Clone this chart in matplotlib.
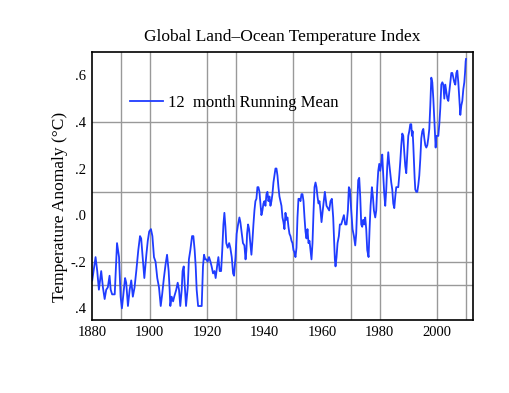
import matplotlib
matplotlib.use("Agg")
import matplotlib.pyplot as plt

plt.rcParams["font.family"] = ["Liberation Serif", "DejaVu Serif"]

# 12-month running mean (year, anomaly in deg C)
years = [
    1880.08, 1881.24, 1881.82, 1882.4, 1883.2, 1883.8, 1884.4, 1884.95, 1885.5, 1886.1,
    1886.5, 1887.0, 1887.9, 1888.7, 1889.4, 1889.95, 1890.4, 1891.5, 1891.9, 1892.5,
    1893.1, 1893.65, 1894.2, 1894.8, 1895.4, 1896.1, 1896.7, 1897.1, 1897.6, 1898.2,
    1898.9, 1899.4, 1899.9, 1900.5, 1901.0, 1901.55, 1902.1, 1902.7, 1903.3, 1903.9,
    1904.4, 1905.0, 1905.6, 1906.1, 1906.66, 1907.0, 1907.24, 1907.7, 1908.2, 1908.6,
    1909.3, 1909.8, 1910.26, 1910.7, 1911.2, 1911.5, 1911.9, 1912.2, 1912.7, 1913.3,
    1913.7, 1914.2, 1914.8, 1915.25, 1915.7, 1916.06, 1916.4, 1916.9, 1917.3, 1917.8,
    1918.15, 1918.6, 1918.96, 1919.4, 1919.8, 1920.2, 1920.7, 1921.2, 1921.6, 1922.1,
    1922.6, 1923.0, 1923.5, 1923.95, 1924.4, 1924.9, 1925.3, 1925.7, 1926.04, 1926.4,
    1926.7, 1927.2, 1927.7, 1928.1, 1928.6, 1929.06, 1929.4, 1929.9, 1930.3, 1930.8,
    1931.26, 1931.6, 1932.1, 1932.5, 1933.0, 1933.4, 1933.7, 1933.93, 1934.28, 1934.63,
    1934.98, 1935.44, 1935.79, 1936.14, 1936.49, 1936.83, 1937.18, 1937.53, 1937.88, 1938.23,
    1938.58, 1938.92, 1939.27, 1939.62, 1939.97, 1940.32, 1940.67, 1941.01, 1941.36, 1941.71,
    1942.06, 1942.41, 1942.75, 1943.1, 1943.45, 1943.8, 1944.15, 1944.5, 1944.84, 1945.19,
    1945.54, 1945.89, 1946.24, 1946.58, 1946.93, 1947.28, 1947.63, 1947.98, 1948.32, 1948.67,
    1949.02, 1949.37, 1949.72, 1950.07, 1950.41, 1950.76, 1951.11, 1951.46, 1951.8, 1952.15,
    1952.5, 1952.85, 1953.2, 1953.55, 1953.9, 1954.24, 1954.59, 1954.94, 1955.29, 1955.64,
    1955.98, 1956.33, 1956.68, 1957.03, 1957.38, 1957.73, 1958.07, 1958.42, 1958.77, 1959.12,
    1959.47, 1959.82, 1960.16, 1960.51, 1960.98, 1961.56, 1962.02, 1962.49, 1962.95, 1963.41,
    1963.88, 1964.23, 1964.46, 1964.69, 1965.04, 1965.39, 1965.85, 1966.2, 1966.67, 1967.13,
    1967.6, 1968.06, 1968.52, 1968.99, 1969.33, 1969.68, 1970.15, 1970.61, 1971.08, 1971.54,
    1971.89, 1972.24, 1972.58, 1972.93, 1973.28, 1973.63, 1973.98, 1974.32, 1974.67, 1975.02,
    1975.37, 1975.72, 1976.18, 1976.53, 1976.88, 1977.34, 1977.69, 1978.04, 1978.5, 1978.85,
    1979.2, 1979.55, 1979.9, 1980.24, 1980.59, 1980.94, 1981.29, 1981.64, 1981.98, 1982.33,
    1982.68, 1983.03, 1983.38, 1983.73, 1984.07, 1984.42, 1984.77, 1985.12, 1985.47, 1985.81,
    1986.16, 1986.51, 1986.86, 1987.21, 1987.56, 1987.9, 1988.25, 1988.6, 1988.95, 1989.29,
    1989.64, 1989.99, 1990.34, 1990.69, 1991.03, 1991.27, 1991.5, 1991.74, 1991.97, 1992.2,
    1992.43, 1992.78, 1993.13, 1993.48, 1993.82, 1994.17, 1994.52, 1994.87, 1995.22, 1995.56,
    1995.91, 1996.26, 1996.61, 1996.95, 1997.3, 1997.65, 1998.0, 1998.35, 1998.7, 1999.04,
    1999.28, 1999.51, 1999.74, 2000.09, 2000.44, 2000.78, 2001.13, 2001.48, 2001.83, 2002.18,
    2002.52, 2002.87, 2003.22, 2003.57, 2003.92, 2004.26, 2004.61, 2004.96, 2005.31, 2005.65,
    2006.0, 2006.35, 2006.7, 2007.04, 2007.39, 2007.74, 2008.09, 2008.43, 2008.78, 2009.13,
    2009.48, 2009.72, 2009.95, 2010.07,
]
anomaly = [
    -0.28, -0.18, -0.24, -0.32, -0.24, -0.31, -0.36, -0.32, -0.31, -0.26,
    -0.32, -0.34, -0.34, -0.12, -0.18, -0.35, -0.40, -0.27, -0.29, -0.39,
    -0.32, -0.28, -0.35, -0.31, -0.24, -0.15, -0.09, -0.10, -0.18, -0.27,
    -0.17, -0.11, -0.07, -0.06, -0.09, -0.18, -0.20, -0.27, -0.31, -0.39,
    -0.34, -0.27, -0.21, -0.17, -0.24, -0.32, -0.39, -0.35, -0.37, -0.35,
    -0.32, -0.29, -0.32, -0.39, -0.32, -0.24, -0.22, -0.29, -0.39, -0.31,
    -0.19, -0.15, -0.09, -0.09, -0.15, -0.22, -0.32, -0.39, -0.39, -0.39,
    -0.39, -0.22, -0.17, -0.19, -0.19, -0.20, -0.18, -0.20, -0.22, -0.25,
    -0.24, -0.27, -0.22, -0.18, -0.24, -0.24, -0.15, -0.04, 0.01, -0.05,
    -0.12, -0.14, -0.12, -0.14, -0.18, -0.25, -0.26, -0.18, -0.08, -0.04,
    -0.01, -0.03, -0.08, -0.12, -0.13, -0.19, -0.15, -0.08, -0.04, -0.06,
    -0.11, -0.17, -0.11, -0.04, 0.02, 0.06, 0.07, 0.12, 0.12, 0.10,
    0.05, 0.00, 0.02, 0.05, 0.06, 0.04, 0.09, 0.10, 0.06, 0.08,
    0.04, 0.06, 0.09, 0.14, 0.17, 0.20, 0.20, 0.17, 0.12, 0.08,
    0.06, 0.04, -0.01, -0.03, -0.06, 0.01, -0.02, -0.01, -0.05, -0.08,
    -0.09, -0.11, -0.12, -0.15, -0.16, -0.18, -0.14, -0.01, 0.07, 0.07,
    0.06, 0.09, 0.09, 0.06, -0.01, -0.07, -0.10, -0.06, -0.12, -0.11,
    -0.15, -0.19, -0.12, 0.01, 0.12, 0.14, 0.12, 0.08, 0.05, 0.06,
    0.02, -0.03, 0.01, 0.05, 0.10, 0.04, 0.03, 0.02, 0.06, 0.07,
    -0.01, -0.12, -0.19, -0.22, -0.18, -0.12, -0.09, -0.04, -0.04, -0.02,
    0.00, -0.04, -0.04, 0.02, 0.12, 0.11, 0.02, -0.06, -0.09, -0.13,
    -0.08, 0.05, 0.15, 0.16, 0.08, -0.04, -0.05, -0.02, -0.04, -0.01,
    -0.06, -0.15, -0.18, -0.06, 0.04, 0.12, 0.08, 0.02, -0.01, 0.02,
    0.12, 0.19, 0.22, 0.19, 0.22, 0.26, 0.17, 0.09, 0.04, 0.11,
    0.21, 0.27, 0.22, 0.18, 0.14, 0.11, 0.05, 0.03, 0.08, 0.12,
    0.12, 0.12, 0.17, 0.23, 0.30, 0.35, 0.34, 0.27, 0.21, 0.18,
    0.26, 0.34, 0.36, 0.39, 0.39, 0.34, 0.36, 0.30, 0.23, 0.16,
    0.11, 0.10, 0.10, 0.13, 0.17, 0.24, 0.33, 0.36, 0.37, 0.33,
    0.30, 0.29, 0.30, 0.33, 0.37, 0.47, 0.59, 0.57, 0.50, 0.41,
    0.34, 0.29, 0.34, 0.34, 0.34, 0.39, 0.46, 0.56, 0.57, 0.56,
    0.50, 0.56, 0.53, 0.50, 0.49, 0.53, 0.57, 0.61, 0.61, 0.59,
    0.57, 0.56, 0.61, 0.62, 0.57, 0.50, 0.43, 0.47, 0.49, 0.54,
    0.57, 0.61, 0.66, 0.67,
]

ytick_vals = [0.6, 0.4, 0.2, 0.0, -0.2, -0.4]
ytick_labels = [".6", ".4", ".2", ".0", "-.2", ".4"]
xtick_vals = [1880, 1900, 1920, 1940, 1960, 1980, 2000]
xgrid = [1890, 1900, 1920, 1930, 1950, 1970, 1980, 2000, 2010]
ygrid = [0.4, 0.1, -0.2, -0.3]

fig = plt.figure(figsize=(5.10, 3.93), dpi=100)
ax = fig.add_axes([92 / 510, 73 / 393, 381 / 510, 268 / 393])

# the odd grid of the original: lines only at these positions
for gx in xgrid:
    ax.axvline(gx, color="#999999", lw=1.0, zorder=1)
for gy in ygrid:
    ax.axhline(gy, color="#999999", lw=1.0, zorder=1)

ax.plot(years, anomaly, color="#1f3cff", lw=1.3, label="12  month Running Mean", zorder=3)

ax.set_xlim(1880, 2012.5)
ax.set_ylim(-0.45, 0.70)
ax.set_xticks(xtick_vals)
ax.set_yticks(ytick_vals)
ax.set_yticklabels(ytick_labels)
ax.tick_params(which="both", length=0, labelsize=10.5)
ax.tick_params(axis="x", pad=4)
ax.tick_params(axis="y", pad=4)
for s in ax.spines.values():
    s.set_linewidth(1.2)
    s.set_zorder(4)

ax.legend(loc="center left", bbox_to_anchor=(0.10, 0.81), frameon=False,
          fontsize=12, handlelength=2.0, handletextpad=0.25,
          borderpad=0, borderaxespad=0)

fig.text(282 / 510, 1 - 37 / 393, "Global Land\u2013Ocean Temperature Index",
         ha="center", va="center", fontsize=12.5)
fig.text(60 / 510, 1 - 207 / 393, "Temperature Anomaly (\u00b0C)",
         ha="center", va="center", rotation=90, fontsize=12.5)

fig.savefig("out.png", dpi=100)
